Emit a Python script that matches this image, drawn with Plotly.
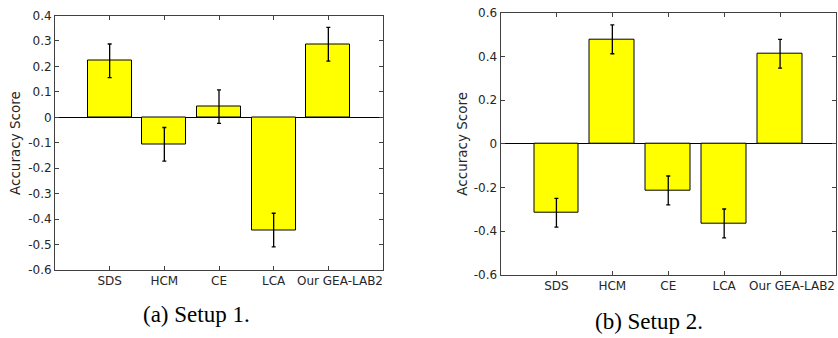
import plotly.graph_objects as go

categories = ["SDS", "HCM", "CE", "LCA", "Our GEA-LAB2"]

setup1_values = [0.222, -0.106, 0.042, -0.443, 0.287]
setup1_errors = [0.066, 0.066, 0.066, 0.066, 0.066]

setup2_values = [-0.316, 0.478, -0.214, -0.365, 0.412]
setup2_errors = [0.066, 0.066, 0.066, 0.066, 0.066]

setup1_ticks = [0.4, 0.3, 0.2, 0.1, 0, -0.1, -0.2, -0.3, -0.4, -0.5, -0.6]
setup1_ticklabels = ["0.4", "0.3", "0.2", "0.1", "0", "-0.1", "-0.2", "-0.3", "-0.4", "-0.5", "-0.6"]
setup2_ticks = [0.6, 0.4, 0.2, 0, -0.2, -0.4, -0.6]
setup2_ticklabels = ["0.6", "0.4", "0.2", "0", "-0.2", "-0.4", "-0.6"]

captions = ["(a) Setup 1.", "(b) Setup 2."]
ytitle = "Accuracy Score"

W, H = 838, 338
TXT = "#262626"
AX = "#404040"
FONT = "DejaVu Sans"

# the last category label sits slightly right of its tick in the reference,
# so it is drawn as an annotation anchored to that category
xticktext = categories[:-1] + [""]

fig = go.Figure()

def bar_trace(vals, errs, xa, ya):
    return go.Bar(
        x=categories, y=vals, width=0.8, xaxis=xa, yaxis=ya,
        marker=dict(color="#FFFF00", line=dict(color="#000000", width=1)),
        error_y=dict(type="data", array=errs, visible=True, color="#000000",
                     thickness=1.3, width=2),
        showlegend=False, hoverinfo="skip",
    )

fig.add_trace(bar_trace(setup1_values, setup1_errors, "x", "y"))
fig.add_trace(bar_trace(setup2_values, setup2_errors, "x2", "y2"))

def xax(domain, anchor):
    return dict(domain=domain, anchor=anchor, type="category", range=[-1, 5],
                tickvals=categories, ticktext=xticktext,
                showline=True, linecolor=AX, linewidth=1, mirror="ticks",
                ticks="inside", ticklen=4, tickcolor=AX, showgrid=False,
                tickangle=0, automargin=False,
                zeroline=False, tickfont=dict(family=FONT, size=12, color=TXT),
                fixedrange=True)

def yax(domain, anchor, rng, tv, tt):
    return dict(domain=domain, anchor=anchor, range=rng, tickvals=tv, ticktext=tt,
                showline=True, linecolor=AX, linewidth=1, mirror="ticks",
                ticks="inside", ticklen=4, tickcolor=AX, showgrid=False,
                automargin=False,
                zeroline=True, zerolinecolor="#000000", zerolinewidth=1,
                tickfont=dict(family=FONT, size=12, color=TXT), fixedrange=True)

l1, r1, t1, b1 = 55, 383, 15.5, 270
l2, r2, t2, b2 = 500.5, 836, 12.7, 274.7

def last_label(xref, yref):
    return dict(text=categories[-1], x=categories[-1], xref=xref, y=0, yref=yref,
                showarrow=False, xanchor="center", yanchor="middle",
                xshift=12, yshift=-11,
                font=dict(family=FONT, size=12, color=TXT))

fig.update_layout(
    width=W, height=H,
    margin=dict(l=0, r=0, t=0, b=0),
    paper_bgcolor="white", plot_bgcolor="white",
    bargap=0,
    xaxis=xax([l1 / W, r1 / W], "y"),
    yaxis=yax([(H - b1) / H, (H - t1) / H], "x", [-0.6, 0.4], setup1_ticks, setup1_ticklabels),
    xaxis2=xax([l2 / W, r2 / W], "y2"),
    yaxis2=yax([(H - b2) / H, (H - t2) / H], "x2", [-0.6, 0.6], setup2_ticks, setup2_ticklabels),
    annotations=[
        last_label("x", "y domain"),
        last_label("x2", "y2 domain"),
        dict(text=ytitle, textangle=-90, x=15.7 / W, y=(H - 143.3) / H, xref="paper", yref="paper",
             showarrow=False, font=dict(family=FONT, size=13.5, color=TXT),
             xanchor="center", yanchor="middle"),
        dict(text=ytitle, textangle=-90, x=461.7 / W, y=(H - 144) / H, xref="paper", yref="paper",
             showarrow=False, font=dict(family=FONT, size=13.5, color=TXT),
             xanchor="center", yanchor="middle"),
        dict(text=captions[0], x=196 / W, y=(H - 314) / H, xref="paper", yref="paper",
             showarrow=False, font=dict(family="Liberation Serif", size=23, color="#000000"),
             xanchor="center", yanchor="middle"),
        dict(text=captions[1], x=649 / W, y=(H - 321) / H, xref="paper", yref="paper",
             showarrow=False, font=dict(family="Liberation Serif", size=23, color="#000000"),
             xanchor="center", yanchor="middle"),
    ],
)

fig.write_html(
    "out.html",
    config={"displayModeBar": False},
    post_script="document.body.style.margin='0';document.body.style.overflow='hidden';",
)
